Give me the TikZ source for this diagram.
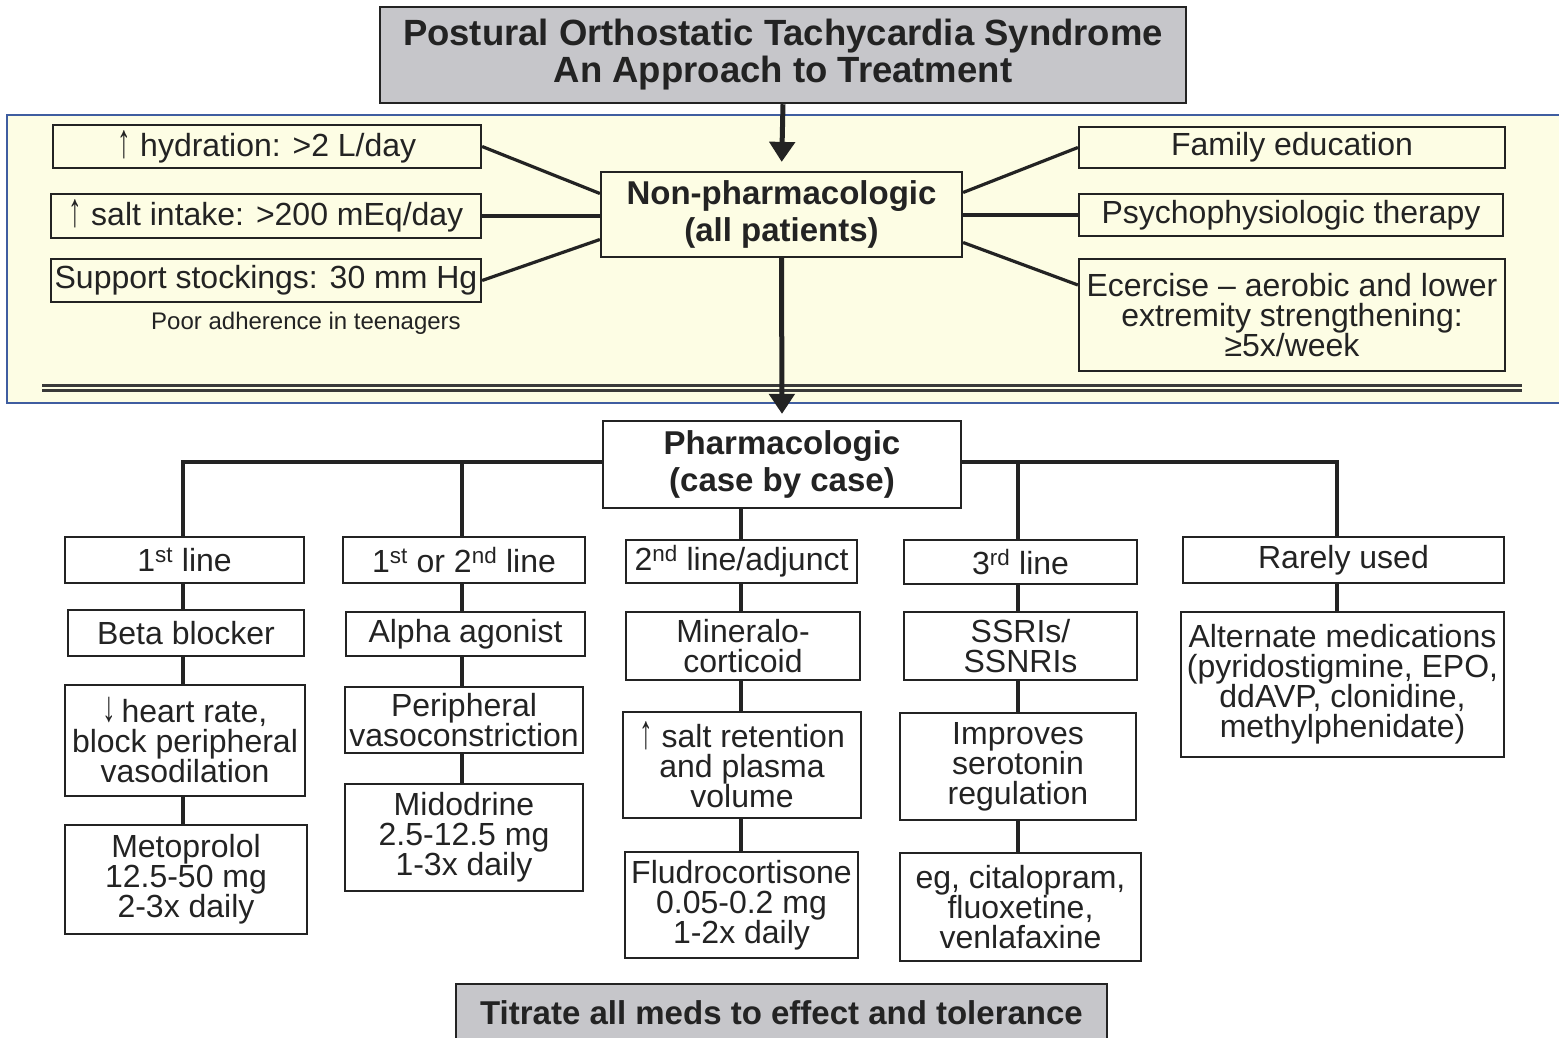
\documentclass[tikz,border=0pt]{standalone}
\usepackage{fontspec}
\setmainfont{Liberation Sans}
\usetikzlibrary{arrows.meta,calc}
\definecolor{framblue}{RGB}{63,93,160}
\definecolor{paleyel}{RGB}{253,253,228}
\definecolor{boxgray}{RGB}{198,198,202}
\definecolor{ink}{RGB}{35,35,35}
\newcommand\regf{\fontsize{32}{30}\selectfont}
\newcommand\boldf{\bfseries\fontsize{33}{37}\selectfont}
\newcommand\titlef{\bfseries\fontsize{36.5}{37}\selectfont}
\newcommand\poorf{\fontsize{24}{26}\selectfont}
\newcommand\uparr{\raisebox{-1pt}{\scalebox{0.85}[1.5]{↑}}}
\newcommand\dnarr{\raisebox{1pt}{\scalebox{0.85}[1.35]{↓}}}
\tikzset{
  box/.style={draw=ink, line width=2.2pt, inner sep=0pt, align=center, text=ink, font=\regf},
  sz/.style 2 args={minimum width=#1pt, minimum height=#2pt},
  graybox/.style={box, fill=boxgray, line width=2.5pt, font=\titlef},
  boldbox/.style={box, fill=white, font=\boldf},
  conn/.style={draw=ink, line width=3.2pt},
  arr/.style={draw=ink, line width=5pt, -{Triangle[length=20pt,width=25pt]}},
}
\begin{document}
\begin{tikzpicture}[x=1pt,y=-1pt]
\useasboundingbox (0,0) rectangle (1559,1038);
\clip (0,0) rectangle (1559,1038);
% background frame of non-pharmacologic part
\path[fill=paleyel] (7,115) rectangle (1570,403);
\draw[framblue, line width=2pt] (1570,115) -- (7,115) -- (7,403) -- (1570,403);
\draw[ink!90, line width=2.2pt] (42,385.5) -- (1522,385.5);
\draw[ink!90, line width=2.2pt] (42,390.5) -- (1522,390.5);

% title
\node[graybox, sz={806}{96}] (title) at (783,55) {Postural Orthostatic Tachycardia Syndrome\\An Approach to Treatment};

% non-pharmacologic
\node[box, font=\boldf, sz={361}{85}] (nonph) at (781.5,214.5) {Non-pharmacologic\\(all patients)};
\node[box, sz={428}{43}] (hydr) at (267,146.5) {\uparr{} hydration: >2 L/day};
\node[box, sz={430}{44}] (salt) at (266,216) {\uparr{} salt intake: >200 mEq/day};
\node[box, sz={430}{43}] (supp) at (266,280.5) {Support stockings: 30 mm Hg};
\node[font=\poorf, text=ink, inner sep=0pt] (poor) at (306,323) {Poor adherence in teenagers};
\node[box, sz={426}{41}] (fam) at (1292,147.5) {Family education};
\node[box, sz={424}{42}] (psy) at (1291,215) {Psychophysiologic therapy};
\node[box, sz={426}{112}] (exe) at (1292,315) {Ecercise – aerobic and lower\\extremity strengthening:\\≥5x/week};

\draw[conn] (hydr.east) -- ([yshift=21pt]nonph.west);
\draw[conn] (salt.east) -- (salt.east -| nonph.west);
\draw[conn] (supp.east) -- ([yshift=-25pt]nonph.west);
\draw[conn] ([yshift=22pt]nonph.east) -- (fam.west);
\draw[conn] (psy.west -| nonph.east) -- (psy.west);
\draw[conn] ([yshift=-28pt]nonph.east) -- ([yshift=30pt]exe.west);

% pharmacologic
\node[boldbox, sz={358}{87}] (pharm) at (782,464.5) {Pharmacologic\\(case by case)};

\draw[arr, shorten >=9pt] (title.south) -- (nonph.north);
\draw[arr, shorten >=6pt] (nonph.south) -- (pharm.north);

% column 1
\node[box, sz={239}{46}] (c1a) at (184.5,560) {1\textsuperscript{st} line};
\node[box, sz={236}{46}] (c1b) at (186,633) {Beta blocker};
\node[box, sz={240}{111}] (c1c) at (185,740.5) {\dnarr\,heart rate,\\block peripheral\\vasodilation};
\node[box, sz={242}{109}] (c1d) at (186,879.5) {Metoprolol\\12.5-50 mg\\2-3x daily};
% column 2
\node[box, sz={242}{46}] (c2a) at (464,560) {1\textsuperscript{st} or 2\textsuperscript{nd} line};
\node[box, sz={239}{44}] (c2b) at (465.5,634) {Alpha agonist};
\node[box, sz={238}{66}] (c2c) at (464,720) {Peripheral\\vasoconstriction};
\node[box, sz={238}{107}] (c2d) at (464,837.5) {Midodrine\\2.5-12.5 mg\\1-3x daily};
% column 3
\node[box, sz={231}{43}] (c3a) at (741.5,561.5) {2\textsuperscript{nd} line/adjunct};
\node[box, sz={234}{68}] (c3b) at (743,646) {Mineralo-\\corticoid};
\node[box, sz={238}{106}] (c3c) at (742,765) {\uparr{} salt retention\\and plasma\\volume};
\node[box, sz={233}{106}] (c3d) at (741.5,905) {Fludrocortisone\\0.05-0.2 mg\\1-2x daily};
% column 4
\node[box, sz={233}{44}] (c4a) at (1020.5,562) {3\textsuperscript{rd} line};
\node[box, sz={233}{68}] (c4b) at (1020.5,646) {SSRIs/\\SSNRIs};
\node[box, sz={236}{107}] (c4c) at (1018,766.5) {Improves\\serotonin\\regulation};
\node[box, sz={241}{108}] (c4d) at (1020.5,907) {eg, citalopram,\\fluoxetine,\\venlafaxine};
% column 5
\node[box, sz={321}{46}] (c5a) at (1343.5,560) {Rarely used};
\node[box, sz={323}{145}] (c5b) at (1342.5,684.5) {Alternate medications\\(pyridostigmine, EPO,\\ddAVP, clonidine,\\methylphenidate)};

% bus
\coordinate (b1) at (183,462);
\coordinate (b2) at (462,462);
\coordinate (b3) at (741,462);
\coordinate (b4) at (1018,462);
\coordinate (b5) at (1337,462);
\draw[conn] (pharm.west |- b1) -- (b1) -- (b1 |- c1a.north);
\draw[conn] (b2) -- (b2 |- c2a.north);
\draw[conn] (pharm.east |- b5) -- (b5) -- (b5 |- c5a.north);
\draw[conn] (b4) -- (b4 |- c4a.north);
\draw[conn] (b3 |- pharm.south) -- (b3 |- c3a.north);

% column connectors
\draw[conn] (c1a.south -| b1) -- (c1b.north -| b1);
\draw[conn] (c1b.south -| b1) -- (c1c.north -| b1);
\draw[conn] (c1c.south -| b1) -- (c1d.north -| b1);
\draw[conn] (c2a.south -| b2) -- (c2b.north -| b2);
\draw[conn] (c2b.south -| b2) -- (c2c.north -| b2);
\draw[conn] (c2c.south -| b2) -- (c2d.north -| b2);
\draw[conn] (c3a.south -| b3) -- (c3b.north -| b3);
\draw[conn] (c3b.south -| b3) -- (c3c.north -| b3);
\draw[conn] (c3c.south -| b3) -- (c3d.north -| b3);
\draw[conn] (c4a.south -| b4) -- (c4b.north -| b4);
\draw[conn] (c4b.south -| b4) -- (c4c.north -| b4);
\draw[conn] (c4c.south -| b4) -- (c4d.north -| b4);
\draw[conn] (c5a.south -| b5) -- (c5b.north -| b5);

% bottom note
\node[graybox, font=\boldf, sz={651}{58}] (titr) at (781.5,1013) {Titrate all meds to effect and tolerance};
\end{tikzpicture}
\end{document}
